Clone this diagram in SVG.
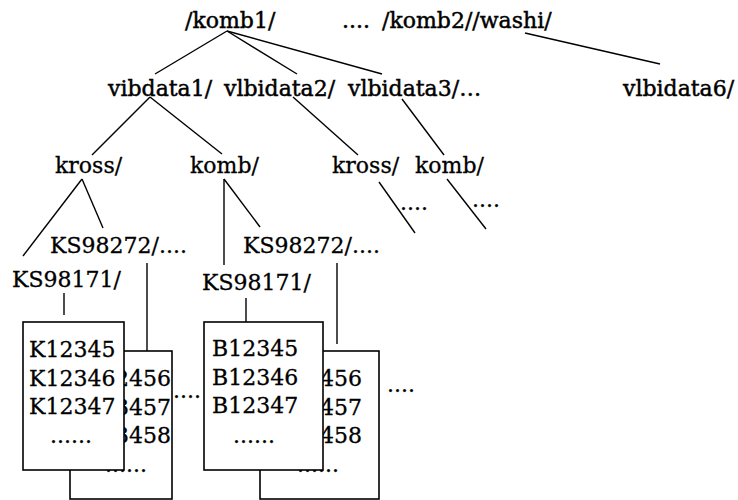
<svg xmlns="http://www.w3.org/2000/svg" width="738" height="500" viewBox="0 0 738 500">
<style>
.t1{font-family:"DejaVu Serif",serif;font-size:22px;fill:#000;stroke:#000;stroke-width:0.45}
.t2{font-family:"DejaVu Serif",serif;font-size:22px;fill:#000;stroke:#000;stroke-width:0.3}
.ln line{stroke:#000;stroke-width:1.4;fill:none}
.box{fill:#fff;stroke:#000;stroke-width:1.6}
</style>
<rect width="738" height="500" fill="#fff"/>
<g id="connectors" class="ln">
<line x1="227" y1="31" x2="155" y2="74"/>
<line x1="227" y1="31" x2="297" y2="74"/>
<line x1="227" y1="31" x2="382" y2="74"/>
<line x1="525" y1="33" x2="660" y2="64"/>
<line x1="150" y1="97" x2="92" y2="155"/>
<line x1="150" y1="97" x2="222" y2="154"/>
<line x1="293" y1="97" x2="358" y2="155"/>
<line x1="402" y1="99" x2="444" y2="155"/>
<line x1="82" y1="179" x2="23" y2="256"/>
<line x1="82" y1="179" x2="103" y2="228"/>
<line x1="224" y1="179" x2="224" y2="265"/>
<line x1="224" y1="179" x2="260" y2="227"/>
<line x1="379" y1="182" x2="415" y2="233"/>
<line x1="447" y1="179" x2="486" y2="229"/>
<line x1="64" y1="293" x2="64" y2="315"/>
<line x1="147" y1="263" x2="147" y2="351"/>
<line x1="246" y1="298" x2="246" y2="322"/>
<line x1="337" y1="263" x2="337" y2="344"/>
</g>
<g id="komb1"><text class="t1" x="185" y="28">/komb1/</text></g>
<g id="dots-top"><text class="t1" x="342" y="28">....</text></g>
<g id="komb2washi"><text class="t1" x="382" y="28">/komb2//washi/</text></g>
<g id="vibdata1"><text class="t1" x="108" y="96">vibdata1/</text></g>
<g id="vlbidata2"><text class="t1" x="224" y="96">vlbidata2/</text></g>
<g id="vlbidata3"><text class="t1" x="348" y="96">vlbidata3/…</text></g>
<g id="vlbidata6"><text class="t1" x="623" y="96">vlbidata6/</text></g>
<g id="kross1"><text class="t2" x="55" y="173">kross/</text></g>
<g id="komb-a"><text class="t2" x="190" y="173">komb/</text></g>
<g id="kross2"><text class="t2" x="332" y="173">kross/</text></g>
<g id="komb-b"><text class="t2" x="415" y="173">komb/</text></g>
<g id="dots-k2"><text class="t2" x="400" y="210">....</text></g>
<g id="dots-k3"><text class="t2" x="472" y="207">....</text></g>
<g id="ks98272-a"><text class="t2" x="50" y="253">KS98272/....</text></g>
<g id="ks98171-a"><text class="t2" x="12" y="287">KS98171/</text></g>
<g id="ks98272-b"><text class="t2" x="243" y="253">KS98272/....</text></g>
<g id="ks98171-b"><text class="t2" x="202" y="290">KS98171/</text></g>
<g id="kfile-back">
<rect class="box" x="70" y="351" width="102" height="148"/>
<text class="t2" x="171" y="386" text-anchor="end">K12456</text>
<text class="t2" x="171" y="415" text-anchor="end">K13457</text>
<text class="t2" x="171" y="443" text-anchor="end">K13458</text>
<text class="t2" x="105" y="472">......</text>
</g>
<g id="kfile-front">
<rect class="box" x="23" y="322" width="101" height="148"/>
<text class="t2" x="29" y="357">K12345</text>
<text class="t2" x="29" y="386">K12346</text>
<text class="t2" x="29" y="414">K12347</text>
<text class="t2" x="50" y="443">......</text>
</g>
<g id="dots-mid"><text class="t2" x="173" y="398">....</text></g>
<g id="bfile-back">
<rect class="box" x="260" y="351" width="119" height="148"/>
<text class="t2" x="362" y="386" text-anchor="end">B12456</text>
<text class="t2" x="362" y="415" text-anchor="end">B12457</text>
<text class="t2" x="362" y="443" text-anchor="end">B12458</text>
<text class="t2" x="297" y="472">......</text>
</g>
<g id="bfile-front">
<rect class="box" x="204" y="322" width="119" height="148"/>
<text class="t2" x="212" y="356">B12345</text>
<text class="t2" x="212" y="385">B12346</text>
<text class="t2" x="212" y="413">B12347</text>
<text class="t2" x="233" y="443">......</text>
</g>
<g id="dots-right"><text class="t2" x="387" y="392">....</text></g>
</svg>
